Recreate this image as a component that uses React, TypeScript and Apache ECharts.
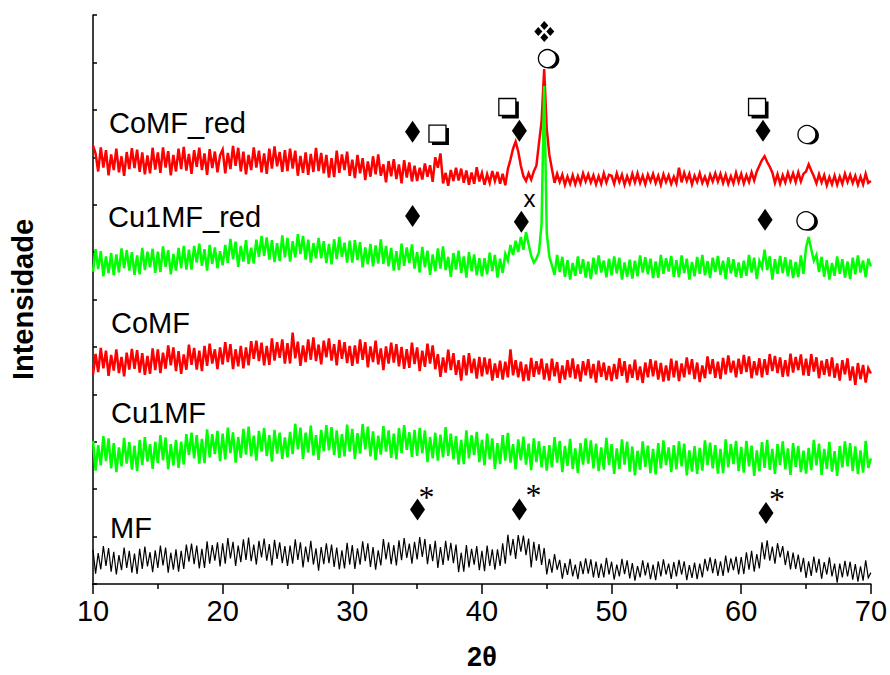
import React, { useEffect, useRef } from "react";
import * as echarts from "echarts";

// 2θ grid: 10° to 70°, step 0.2° (each row = 25 points = 5°)
const thetaStart = 10;
const thetaStep = 0.2;

// vertical offsets used to stack the patterns (same units as intensities)
const offsetMF = 0;
const offsetCu1MF = 220;
const offsetCoMF = 400;
const offsetCu1MFRed = 620;
const offsetCoMFRed = 820;

const mf = [
  72, 22, 65, 31, 80, 38, 76, 26, 68, 20, 61, 29, 77, 34, 70, 24, 64, 21, 74, 32, 79, 37, 67, 25, 71,
  34, 81, 39, 77, 24, 66, 30, 73, 26, 70, 32, 83, 47, 85, 42, 81, 33, 74, 34, 90, 43, 82, 49, 88, 37,
  86, 43, 97, 54, 89, 38, 81, 46, 94, 51, 98, 48, 83, 41, 91, 56, 96, 49, 84, 39, 93, 53, 88, 44, 80,
  38, 81, 43, 94, 51, 88, 35, 79, 46, 91, 41, 75, 28, 78, 42, 86, 44, 83, 36, 77, 31, 71, 33, 87, 41,
  82, 32, 75, 41, 90, 48, 86, 36, 78, 30, 71, 39, 95, 52, 88, 42, 82, 39, 92, 50, 97, 55, 85, 43, 89,
  52, 99, 57, 95, 42, 84, 48, 91, 34, 78, 40, 91, 49, 87, 44, 83, 25, 66, 26, 82, 35, 74, 41, 80, 29,
  70, 27, 81, 38, 73, 30, 73, 38, 86, 43, 104, 60, 95, 53, 103, 68, 102, 61, 96, 35, 89, 49, 84, 40, 76,
  20, 53, 24, 63, 30, 51, 11, 44, 19, 53, 16, 41, 10, 48, 21, 54, 22, 52, 14, 47, 13, 43, 14, 55, 20,
  47, 9, 41, 16, 53, 21, 50, 12, 44, 7, 38, 14, 50, 18, 45, 10, 41, 8, 48, 16, 52, 20, 43, 11, 46,
  16, 51, 20, 48, 8, 40, 13, 45, 10, 43, 14, 53, 27, 56, 23, 53, 17, 48, 17, 60, 24, 54, 29, 58, 20,
  57, 21, 67, 30, 70, 26, 63, 33, 88, 52, 92, 49, 79, 43, 86, 56, 80, 40, 70, 31, 66, 32, 62, 25, 55,
  13, 48, 17, 58, 24, 53, 11, 46, 20, 56, 16, 43, 3, 43, 14, 49, 16, 47, 9, 42, 5, 37, 7, 50, 13,
  24,
];

const cu1mf = [
  82, 19, 73, 30, 92, 39, 87, 24, 77, 16, 68, 28, 88, 34, 79, 21, 72, 18, 84, 31, 90, 38, 75, 23, 80,
  35, 94, 41, 89, 22, 75, 30, 84, 25, 80, 32, 96, 52, 99, 45, 94, 34, 86, 35, 106, 47, 96, 54, 103, 39,
  97, 43, 110, 56, 100, 36, 90, 46, 107, 53, 112, 49, 93, 40, 103, 59, 109, 50, 94, 38, 105, 55, 99, 44, 89,
  47, 101, 54, 118, 64, 110, 44, 99, 57, 114, 51, 94, 42, 105, 60, 115, 62, 111, 52, 104, 46, 96, 49, 116, 59,
  107, 44, 98, 55, 117, 64, 112, 49, 102, 41, 93, 53, 113, 59, 104, 46, 97, 43, 109, 56, 115, 63, 100, 48, 105,
  50, 109, 56, 104, 37, 90, 45, 99, 40, 95, 47, 111, 50, 97, 43, 92, 32, 84, 33, 104, 45, 94, 52, 101, 37,
  84, 30, 97, 43, 87, 23, 77, 33, 94, 40, 99, 36, 75, 22, 85, 41, 91, 32, 76, 20, 87, 37, 81, 26, 71,
  19, 73, 26, 90, 36, 82, 16, 71, 29, 86, 23, 66, 14, 77, 32, 87, 34, 83, 24, 76, 18, 68, 21, 88, 31,
  75, 12, 66, 23, 85, 32, 80, 17, 70, 9, 61, 21, 81, 27, 72, 14, 65, 11, 77, 24, 83, 31, 68, 16, 73,
  22, 81, 28, 76, 9, 62, 17, 71, 12, 67, 19, 83, 31, 78, 24, 73, 13, 65, 14, 85, 26, 75, 33, 82, 18,
  69, 15, 82, 28, 72, 8, 62, 18, 79, 25, 84, 21, 65, 12, 75, 31, 81, 22, 66, 10, 77, 27, 71, 16, 61,
  13, 67, 20, 84, 30, 76, 10, 65, 23, 80, 17, 60, 8, 71, 26, 81, 28, 77, 18, 70, 12, 62, 15, 82, 25,
  45,
];

const comf = [
  42, 85, 47, 98, 55, 92, 39, 83, 50, 95, 45, 79, 38, 88, 52, 96, 54, 93, 46, 87, 41, 81, 43, 97, 51,
  95, 45, 88, 54, 103, 61, 99, 49, 91, 43, 84, 52, 105, 62, 98, 52, 92, 49, 102, 60, 107, 65, 95, 53, 99,
  63, 110, 68, 106, 53, 95, 59, 102, 55, 99, 61, 112, 75, 113, 70, 109, 61, 102, 62, 118, 71, 110, 77, 116, 65,
  108, 65, 130, 76, 111, 60, 103, 68, 116, 73, 120, 70, 105, 63, 113, 78, 118, 71, 106, 61, 115, 75, 110, 66, 102,
  60, 103, 65, 116, 73, 110, 57, 101, 68, 113, 63, 97, 51, 101, 65, 109, 67, 106, 59, 100, 54, 95, 56, 109, 64,
  99, 49, 92, 58, 107, 65, 103, 53, 85, 37, 78, 46, 94, 51, 87, 41, 72, 29, 82, 40, 87, 45, 75, 33, 79,
  38, 78, 42, 75, 29, 65, 35, 71, 31, 69, 36, 95, 40, 72, 36, 69, 28, 63, 29, 77, 37, 70, 42, 75, 31,
  65, 29, 75, 38, 68, 24, 61, 31, 72, 36, 76, 33, 63, 27, 70, 40, 74, 34, 64, 25, 71, 37, 67, 30, 60,
  28, 64, 32, 76, 39, 70, 25, 63, 35, 73, 30, 59, 24, 67, 36, 74, 38, 71, 31, 66, 27, 61, 29, 75, 36,
  71, 28, 65, 36, 78, 42, 74, 32, 67, 26, 61, 34, 80, 43, 74, 35, 69, 32, 77, 42, 82, 46, 71, 36, 75,
  43, 83, 47, 80, 34, 70, 40, 76, 36, 74, 41, 85, 49, 81, 45, 78, 37, 72, 38, 86, 46, 79, 51, 84, 40,
  75, 39, 85, 48, 78, 34, 71, 41, 74, 38, 78, 35, 65, 29, 72, 42, 76, 29, 59, 20, 66, 32, 62, 25, 55,
  44,
];

const cu1mfRed = [
  39, 86, 44, 82, 29, 71, 35, 78, 31, 75, 37, 88, 46, 84, 41, 80, 32, 73, 33, 89, 42, 81, 48, 87, 36,
  81, 38, 92, 49, 84, 33, 76, 41, 89, 46, 93, 43, 85, 43, 93, 58, 98, 51, 86, 41, 95, 55, 90, 46, 82,
  52, 95, 57, 108, 65, 102, 49, 93, 60, 105, 55, 89, 56, 106, 70, 114, 72, 111, 64, 105, 59, 99, 61, 115, 69,
  110, 60, 103, 69, 118, 76, 114, 64, 106, 58, 99, 67, 110, 67, 103, 57, 97, 54, 107, 65, 112, 70, 100, 58, 104,
  58, 105, 63, 101, 48, 90, 54, 97, 50, 94, 56, 107, 55, 93, 50, 89, 41, 82, 42, 98, 51, 90, 57, 96, 45,
  80, 37, 91, 48, 83, 32, 75, 40, 88, 45, 92, 42, 70, 28, 78, 43, 83, 36, 71, 26, 80, 40, 75, 31, 67,
  29, 67, 33, 79, 40, 74, 26, 66, 36, 76, 62, 95, 74, 104, 80, 112, 85, 122, 96, 72, 58, 66, 80, 140, 430,
  120, 70, 52, 32, 74, 38, 70, 28, 63, 22, 57, 30, 71, 34, 65, 26, 60, 23, 68, 33, 73, 37, 62, 27, 66,
  31, 71, 35, 68, 22, 58, 28, 64, 24, 62, 29, 73, 37, 69, 33, 66, 25, 60, 26, 74, 34, 67, 39, 72, 28,
  63, 27, 73, 36, 66, 22, 59, 29, 70, 34, 74, 31, 61, 25, 68, 38, 72, 32, 62, 23, 69, 35, 65, 28, 58,
  26, 62, 30, 74, 37, 68, 23, 61, 47, 85, 42, 71, 22, 65, 34, 72, 36, 69, 29, 64, 25, 59, 27, 73, 34,
  90, 112, 86, 62, 74, 38, 70, 28, 63, 22, 57, 30, 71, 34, 65, 26, 60, 23, 68, 33, 73, 37, 62, 27, 66,
  50,
];

const comfRed = [
  105, 88, 50, 101, 58, 95, 42, 86, 53, 98, 48, 82, 41, 91, 55, 99, 57, 96, 49, 90, 44, 84, 46, 100, 54,
  90, 47, 101, 58, 93, 42, 85, 50, 98, 55, 102, 52, 87, 45, 95, 60, 100, 53, 88, 43, 97, 57, 92, 48, 84,
  96, 46, 89, 55, 104, 62, 100, 50, 92, 44, 85, 53, 101, 58, 94, 48, 88, 45, 98, 56, 103, 61, 91, 49, 95,
  51, 98, 56, 94, 41, 83, 47, 90, 43, 87, 49, 100, 51, 89, 46, 85, 37, 78, 38, 94, 47, 86, 53, 92, 41,
  75, 36, 85, 46, 78, 32, 71, 39, 82, 44, 86, 41, 65, 27, 72, 40, 76, 34, 65, 25, 74, 37, 69, 29, 62,
  30, 58, 33, 67, 39, 63, 28, 80, 58, 88, 25, 47, 20, 53, 30, 58, 31, 56, 26, 52, 22, 48, 24, 59, 29,
  47, 22, 44, 26, 51, 30, 49, 24, 45, 21, 55, 75, 98, 113, 92, 62, 40, 30, 46, 33, 50, 62, 110, 155, 266,
  140, 85, 55, 26, 45, 28, 43, 22, 39, 24, 42, 23, 40, 25, 46, 29, 44, 27, 42, 23, 40, 24, 46, 27, 43,
  41, 24, 46, 28, 43, 22, 40, 25, 45, 27, 46, 26, 41, 23, 43, 29, 45, 26, 41, 22, 44, 28, 42, 24, 39,
  25, 58, 27, 47, 30, 45, 23, 41, 28, 46, 26, 39, 23, 43, 29, 46, 29, 45, 26, 43, 24, 40, 25, 47, 28,
  45, 25, 42, 28, 48, 31, 50, 62, 74, 82, 70, 60, 48, 26, 44, 24, 42, 27, 47, 30, 46, 28, 48, 29, 45,
  50, 65, 52, 40, 25, 44, 27, 42, 21, 38, 23, 41, 22, 39, 24, 45, 28, 43, 26, 41, 22, 39, 23, 45, 26,
  30,
];

const xTicks = [10, 20, 30, 40, 50, 60, 70];

// phase markers [2θ, stacked intensity]
const diamondPts = [
  [34.65, 954], [42.89, 956], [61.68, 956],
  [34.65, 776], [43.04, 764], [61.84, 768],
  [35.03, 157], [42.89, 157], [61.91, 150],
];
const squarePts = [[36.57, 950], [41.96, 1006], [61.22, 1006]];
const circlePts = [[45.05, 1108], [65.07, 948], [64.99, 766]];
const fourDiamondPts = [[44.81, 1165]];
const crossPts = [[43.66, 812]];
const starPts = [[35.73, 198], [43.97, 202], [62.76, 194]];

const sampleNames = ["CoMF_red", "Cu1MF_red", "CoMF", "Cu1MF", "MF"];

const toPairs = (vals: number[], offset: number) =>
  vals.map((v, i) => [Math.round((thetaStart + i * thetaStep) * 100) / 100, v + offset]);

const SANS = '"Liberation Sans", Arial, Helvetica, sans-serif';

export default function App() {
  const ref = useRef<HTMLDivElement>(null);

  useEffect(() => {
    if (!ref.current) return;
    const chart = echarts.init(ref.current, undefined, { renderer: "svg" });

    const lineSeries = (name: string, vals: number[], offset: number, color: string, width: number) => ({
      name,
      type: "line",
      data: toPairs(vals, offset),
      showSymbol: false,
      symbol: "none",
      lineStyle: { color, width, join: "miter", opacity: 1 },
      itemStyle: { color },
      silent: true,
    });

    const symbolSeries = (
      name: string,
      pts: number[][],
      symbol: string,
      size: number | number[],
      fill: string,
      offset: number[] = [0, 0],
      border = 0,
      z = 5
    ) => ({
      name,
      type: "scatter",
      data: pts,
      symbol,
      symbolSize: size,
      symbolOffset: offset,
      itemStyle: { color: fill, borderColor: "#000", borderWidth: border, opacity: 1 },
      silent: true,
      z,
    });

    const glyphSeries = (name: string, pts: number[][], glyph: string, font: string, size: number, offset: number[] = [0, 0]) => ({
      name,
      type: "scatter",
      data: pts,
      symbol: "circle",
      symbolSize: 1,
      itemStyle: { color: "rgba(0,0,0,0)", opacity: 1 },
      silent: true,
      z: 6,
      label: {
        show: true,
        position: "inside",
        formatter: () => glyph,
        color: "#000",
        opacity: 1,
        fontFamily: font,
        fontSize: size,
        offset,
      },
    });

    const labelPos = [
      [109, 123],
      [108, 217],
      [111, 323],
      [111, 413],
      [110, 528],
    ];

    chart.setOption({
      animation: false,
      backgroundColor: "#fff",
      grid: { left: 93, right: 18, top: 15, bottom: 85, containLabel: false },
      xAxis: {
        type: "value",
        min: 10,
        max: 70,
        interval: 10,
        axisLine: { lineStyle: { color: "#000", width: 1.5 } },
        axisTick: { show: true, length: 10, lineStyle: { color: "#000", width: 1.5 } },
        minorTick: { show: true, splitNumber: 2, length: 5, lineStyle: { color: "#000", width: 1.5 } },
        splitLine: { show: false },
        minorSplitLine: { show: false },
        axisLabel: {
          color: "#000",
          fontSize: 29,
          fontFamily: SANS,
          margin: 12,
          formatter: (v: number) => (xTicks.includes(v) ? String(v) : ""),
        },
        name: "2θ",
        nameLocation: "middle",
        nameGap: 59,
        nameTextStyle: { color: "#000", fontSize: 27, fontWeight: "bold", fontFamily: SANS },
      },
      yAxis: {
        type: "value",
        min: 0,
        max: 1200,
        interval: 100,
        axisLine: { show: true, lineStyle: { color: "#000", width: 1.5 } },
        axisTick: { show: true, inside: true, length: 4, lineStyle: { color: "#000", width: 1.5 } },
        axisLabel: { show: false },
        splitLine: { show: false },
        name: "Intensidade",
        nameLocation: "middle",
        nameGap: 56,
        nameTextStyle: { color: "#000", fontSize: 29, fontWeight: "bold", fontFamily: SANS },
      },
      series: [
        lineSeries("MF", mf, offsetMF, "#000000", 1.2),
        lineSeries("Cu1MF", cu1mf, offsetCu1MF, "#00ff00", 2.5),
        lineSeries("CoMF", comf, offsetCoMF, "#ff0000", 2.5),
        lineSeries("CoMF_red", comfRed, offsetCoMFRed, "#ff0000", 2.5),
        lineSeries("Cu1MF_red", cu1mfRed, offsetCu1MFRed, "#00ff00", 2.5),
        symbolSeries("diamonds", diamondPts, "diamond", [15, 22], "#000"),
        // shadowed squares
        symbolSeries("squareShadow", squarePts, "rect", 17, "#000", [3, 3], 0, 5),
        symbolSeries("square", squarePts, "rect", 17, "#fff", [0, 0], 1.3, 6),
        // shadowed circles
        symbolSeries("circleShadow", circlePts, "circle", 18, "#000", [3, 1], 0, 5),
        symbolSeries("circle", circlePts, "circle", 18, "#fff", [0, 0], 1.3, 6),
        // four-diamond marker
        symbolSeries("fd1", fourDiamondPts, "diamond", [8, 9], "#000", [0, -6]),
        symbolSeries("fd2", fourDiamondPts, "diamond", [8, 9], "#000", [0, 6]),
        symbolSeries("fd3", fourDiamondPts, "diamond", [8, 9], "#000", [-6, 0]),
        symbolSeries("fd4", fourDiamondPts, "diamond", [8, 9], "#000", [6, 0]),
        glyphSeries("cross", crossPts, "x", SANS, 24),
        glyphSeries("stars", starPts, "*", '"Liberation Serif", "Times New Roman", serif', 32, [0, 7]),
      ],
      graphic: sampleNames.map((t, i) => ({
        type: "text",
        x: labelPos[i][0],
        y: labelPos[i][1],
        silent: true,
        style: {
          text: t,
          fill: "#000",
          font: `29px ${SANS}`,
          verticalAlign: "middle",
          align: "left",
        },
      })),
    });

    return () => chart.dispose();
  }, []);

  return (
    <div
      ref={ref}
      style={{ position: "absolute", left: 0, top: 0, width: 890, height: 675 }}
    />
  );
}
